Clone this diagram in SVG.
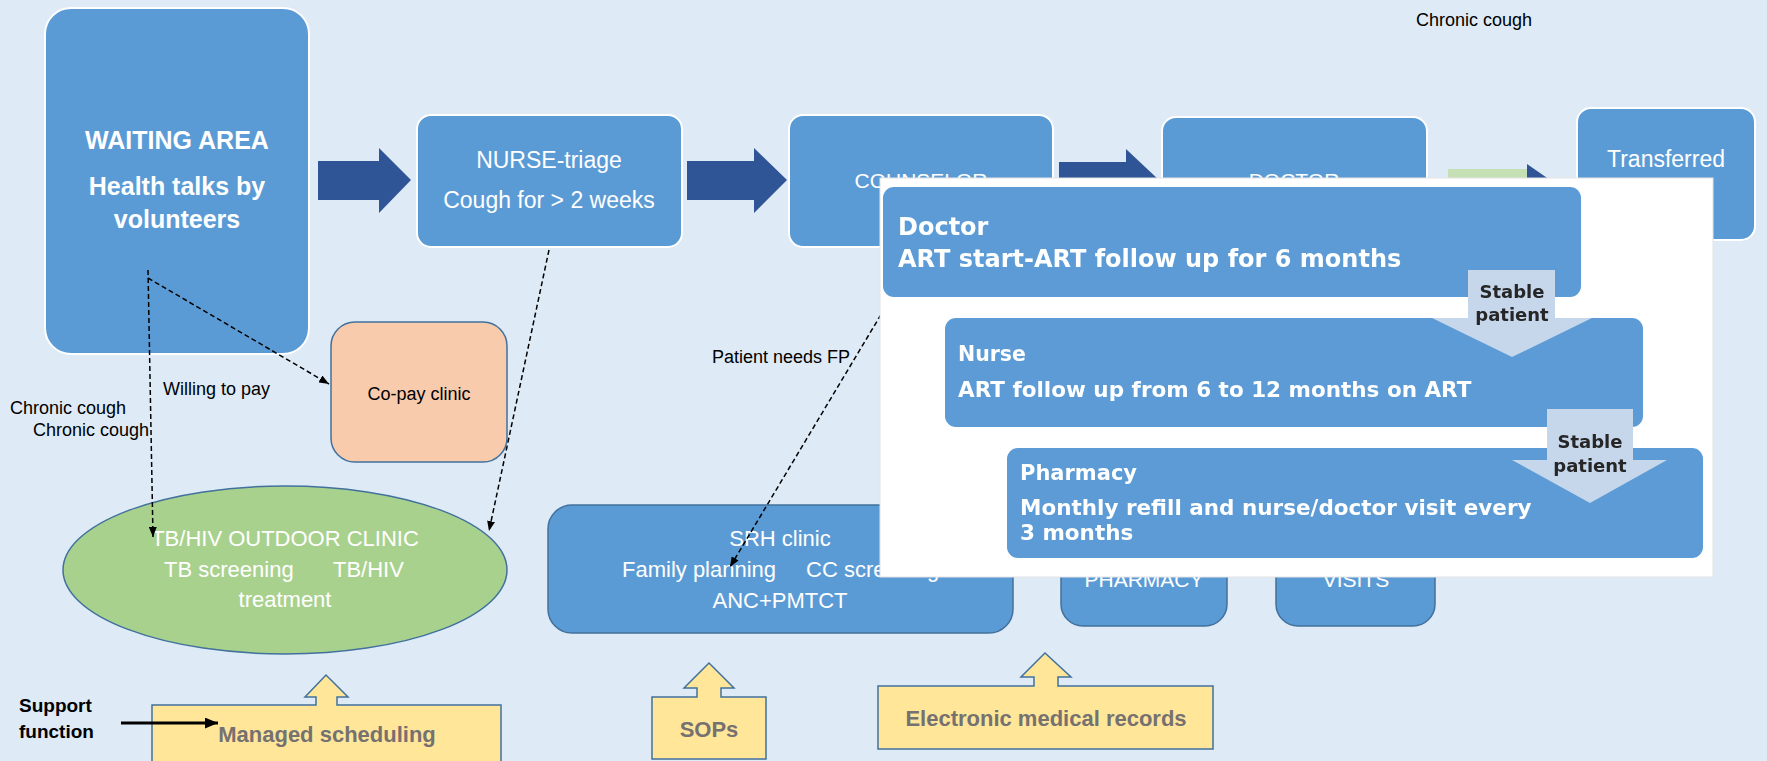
<svg xmlns="http://www.w3.org/2000/svg" width="1767" height="761" viewBox="0 0 1767 761">
<defs>
<style>
.bg{fill:#deeaf6}
.box{fill:#5b9bd5;stroke:#ffffff;stroke-width:2}
.box2{fill:#5b9bd5;stroke:#41719c;stroke-width:1.5}
.wt{fill:#ffffff;font-family:"Liberation Sans",Arial,sans-serif}
.lbl{fill:#000000;font-family:"Liberation Sans",Arial,sans-serif;font-size:18px}
.dash{fill:none;stroke:#000000;stroke-width:1.5;stroke-dasharray:5 3}
.blk{fill:#2f5597}
.sup{fill:#ffe699;stroke:#41719c;stroke-width:1.5}
.supt{fill:#767171;font-family:"Liberation Sans",Arial,sans-serif;font-size:22px;font-weight:bold}
.ovbox{fill:#5b9bd5}
.ovt{fill:#ffffff;font-family:"DejaVu Sans",Verdana,sans-serif;font-weight:bold}
.stab{fill:#c6d7ec}
.stabt{fill:#262626;font-family:"DejaVu Sans",Verdana,sans-serif;font-weight:bold;font-size:18px;text-anchor:middle}
</style>
<marker id="ah" viewBox="0 0 10 8" refX="10" refY="4" markerWidth="10" markerHeight="8" markerUnits="userSpaceOnUse" orient="auto">
<path d="M0,0 L10,4 L0,8 z" fill="#000000"/>
</marker>
<marker id="ahb" viewBox="0 0 12 10" refX="12" refY="5" markerWidth="13" markerHeight="11" markerUnits="userSpaceOnUse" orient="auto">
<path d="M0,0 L12,5 L0,10 z" fill="#000000"/>
</marker>
<filter id="soft" x="-5%" y="-5%" width="110%" height="110%">
<feGaussianBlur stdDeviation="0.6"/>
</filter>
</defs>

<rect class="bg" x="0" y="0" width="1767" height="761"/>

<text class="lbl" x="1416" y="26">Chronic cough</text>

<g id="waiting-area">
<rect class="box" x="45" y="8" width="264" height="346" rx="26"/>
<text class="wt" x="177" y="149" text-anchor="middle" font-size="25" font-weight="bold">WAITING AREA</text>
<text class="wt" x="177" y="195" text-anchor="middle" font-size="25" font-weight="bold">Health talks by</text>
<text class="wt" x="177" y="228" text-anchor="middle" font-size="25" font-weight="bold">volunteers</text>
</g>

<g id="nurse-triage">
<rect class="box" x="417" y="115" width="265" height="132" rx="14"/>
<text class="wt" x="549" y="168" text-anchor="middle" font-size="23">NURSE-triage</text>
<text class="wt" x="549" y="208" text-anchor="middle" font-size="23">Cough for &gt; 2 weeks</text>
</g>

<g id="counselor">
<rect class="box" x="789" y="115" width="264" height="132" rx="14"/>
<text class="wt" x="921" y="188" text-anchor="middle" font-size="21">COUNSELOR</text>
</g>

<g id="doctor">
<rect class="box" x="1162" y="117" width="265" height="130" rx="14"/>
<text class="wt" x="1294" y="188" text-anchor="middle" font-size="21">DOCTOR</text>
</g>

<g id="transferred">
<rect class="box" x="1577" y="108" width="178" height="132" rx="14"/>
<text class="wt" x="1666" y="167" text-anchor="middle" font-size="23">Transferred</text>
</g>

<g id="copay-clinic">
<rect x="331" y="322" width="176" height="140" rx="24" fill="#f8cbad" stroke="#41719c" stroke-width="1.5"/>
<text class="lbl" x="419" y="400" text-anchor="middle">Co-pay clinic</text>
</g>

<g id="tbhiv-clinic">
<ellipse cx="285" cy="570" rx="222" ry="84" fill="#a9d18e" stroke="#41719c" stroke-width="1.5"/>
<text class="wt" x="285" y="546" text-anchor="middle" font-size="22">TB/HIV OUTDOOR CLINIC</text>
<text class="wt" y="577" font-size="22"><tspan x="164">TB screening</tspan><tspan x="333">TB/HIV</tspan></text>
<text class="wt" x="285" y="607" text-anchor="middle" font-size="22">treatment</text>
</g>

<g id="srh-clinic">
<rect class="box2" x="548" y="505" width="465" height="128" rx="24"/>
<text class="wt" x="780" y="546" text-anchor="middle" font-size="22">SRH clinic</text>
<text class="wt" y="577" font-size="22"><tspan x="622">Family planning</tspan><tspan x="806">CC screening</tspan></text>
<text class="wt" x="780" y="608" text-anchor="middle" font-size="22">ANC+PMTCT</text>
</g>

<g id="pharmacy">
<rect class="box2" x="1061" y="505" width="166" height="121" rx="22"/>
<text class="wt" x="1144" y="587" text-anchor="middle" font-size="21">PHARMACY</text>
</g>

<g id="visits">
<rect class="box2" x="1276" y="505" width="159" height="121" rx="22"/>
<text class="wt" x="1356" y="587" text-anchor="middle" font-size="21">VISITS</text>
</g>

<g id="managed-scheduling">
<path class="sup" d="M152,705 L316,705 L316,697 L305,697 L326,675 L348,697 L337,697 L337,705 L501,705 L501,764 L152,764 Z"/>
<text class="supt" x="327" y="742" text-anchor="middle">Managed scheduling</text>
</g>

<g id="sops">
<path class="sup" d="M652,697 L697,697 L697,688 L684,688 L709,663 L734,688 L721,688 L721,697 L766,697 L766,759 L652,759 Z"/>
<text class="supt" x="709" y="737" text-anchor="middle">SOPs</text>
</g>

<g id="emr">
<path class="sup" d="M878,686 L1034,686 L1034,677 L1021,677 L1045,653 L1071,677 L1058,677 L1058,686 L1213,686 L1213,749 L878,749 Z"/>
<text class="supt" x="1046" y="726" text-anchor="middle">Electronic medical records</text>
</g>

<g id="support-function">
<text x="19" y="712" font-family="Liberation Sans,Arial,sans-serif" font-size="19" font-weight="bold" fill="#000000">Support</text>
<text x="19" y="738" font-family="Liberation Sans,Arial,sans-serif" font-size="19" font-weight="bold" fill="#000000">function</text>
</g>

<g id="connectors">
<polygon class="blk" points="318,161 379,161 379,148 411,180 379,213 379,200 318,200"/>
<polygon class="blk" points="687,161 754,161 754,148 787,180 754,213 754,200 687,200"/>
<polygon class="blk" points="1059,162 1126,162 1126,149 1160,181 1126,214 1126,201 1059,201"/>
<polygon class="blk" points="1448,169 1527,169 1527,164 1553,182 1527,200 1527,195 1448,195"/>
<rect x="1448" y="169" width="79" height="26" fill="#c5e0b4"/>
<path class="dash" d="M148,270 L153,537" marker-end="url(#ah)"/>
<path class="dash" d="M148,278 L329,384" marker-end="url(#ah)"/>
<path class="dash" d="M549,250 L489,531" marker-end="url(#ah)"/>
<path class="dash" d="M922,246 L730,567" marker-end="url(#ah)"/>
<line x1="121" y1="723" x2="218" y2="723" stroke="#000000" stroke-width="3" marker-end="url(#ahb)"/>
<text class="lbl" x="163" y="395">Willing to pay</text>
<text class="lbl" x="10" y="414">Chronic cough</text>
<text class="lbl" x="33" y="436">Chronic cough</text>
<text class="lbl" x="712" y="363">Patient needs FP</text>
</g>

<g id="art-overlay">
<rect x="880" y="178" width="833" height="399" fill="#ffffff" stroke="#e3e3e3" stroke-width="1"/>
<g filter="url(#soft)">
<g id="ov-doctor">
<rect class="ovbox" x="883" y="187" width="698" height="110" rx="11"/>
<text class="ovt" x="898" y="235" font-size="24">Doctor</text>
<text class="ovt" x="898" y="267" font-size="24">ART start-ART follow up for 6 months</text>
</g>
<g id="ov-nurse">
<rect class="ovbox" x="945" y="318" width="698" height="109" rx="11"/>
<text class="ovt" x="958" y="361" font-size="20.5">Nurse</text>
<text class="ovt" x="958" y="397" font-size="21.5">ART follow up from 6 to 12 months on ART</text>
</g>
<g id="ov-pharmacy">
<rect class="ovbox" x="1007" y="448" width="696" height="110" rx="11"/>
<text class="ovt" x="1020" y="480" font-size="21">Pharmacy</text>
<text class="ovt" x="1020" y="515" font-size="21.5">Monthly refill and nurse/doctor visit every</text>
<text class="ovt" x="1020" y="540" font-size="21.5">3 months</text>
</g>
<g id="ov-stable-1">
<path class="stab" d="M1468,270 L1555,270 L1555,318 L1592,318 L1512,357 L1432,318 L1468,318 Z"/>
<text class="stabt" x="1512" y="298">Stable</text>
<text class="stabt" x="1512" y="321">patient</text>
</g>
<g id="ov-stable-2">
<path class="stab" d="M1547,409 L1633,409 L1633,460 L1667,460 L1590,503 L1512,460 L1547,460 Z"/>
<text class="stabt" x="1590" y="448">Stable</text>
<text class="stabt" x="1590" y="472">patient</text>
</g>
</g>
</g>
</svg>
